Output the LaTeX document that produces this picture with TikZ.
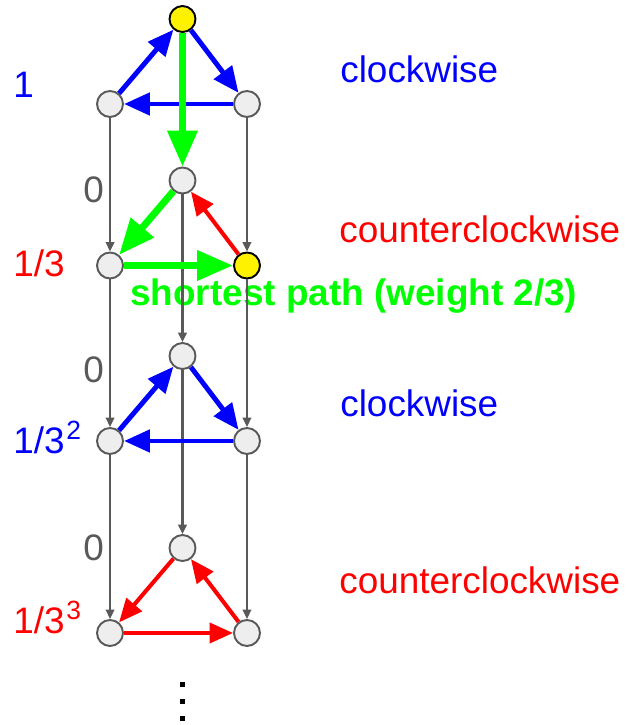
\documentclass[tikz,border=0pt]{standalone}
\usepackage{fontspec}
\setmainfont{Liberation Sans}
\usetikzlibrary{arrows.meta, positioning}
\definecolor{edgegray}{HTML}{595959}
\definecolor{nodefill}{HTML}{EEEEEE}
\newcommand{\pw}[1]{\kern1pt\raisebox{7.5pt}{\fontsize{15}{17}\selectfont #1}}

\begin{document}
\begin{tikzpicture}[x=0.02cm, y=-0.02cm, on grid,
        vertex/.style={circle, draw=edgegray, fill=nodefill, line width=1.1pt, minimum size=0.52cm, inner sep=0pt},
        start/.style={vertex, draw=black, fill=yellow},
        txt/.style={anchor=base west, inner sep=0pt, font=\fontsize{21}{25}\selectfont},
        down/.style={draw=edgegray, line width=1.3pt, -{Triangle[length=0.19cm, width=0.17cm]}},
        cw/.style={draw=blue, line width=2.8pt, -{Triangle[length=0.52cm, width=0.44cm]}},
        ccw/.style={draw=red, line width=2.3pt, -{Triangle[length=0.47cm, width=0.4cm]}},
        best/.style={draw=green, line width=4pt, -{Triangle[length=0.72cm, width=0.58cm]}}]
        \useasboundingbox (0,0) rectangle (629,725);

        % triangles, one per level
        \node [start] (t1) at (182.5,19) {};
        \node [vertex, below left=1.7cm and 1.45cm of t1] (l1) {};
        \node [vertex, below right=1.7cm and 1.29cm of t1] (r1) {};
        \node [vertex] (t2) at (182.5,180.5) {};
        \node [vertex, below left=1.7cm and 1.45cm of t2] (l2) {};
        \node [start, below right=1.7cm and 1.29cm of t2] (r2) {};
        \node [vertex] (t3) at (182.5,356) {};
        \node [vertex, below left=1.7cm and 1.45cm of t3] (l3) {};
        \node [vertex, below right=1.7cm and 1.29cm of t3] (r3) {};
        \node [vertex] (t4) at (182.5,548) {};
        \node [vertex, below left=1.7cm and 1.45cm of t4] (l4) {};
        \node [vertex, below right=1.7cm and 1.29cm of t4] (r4) {};

        % weights and directions
        \node [txt, blue] (w1) at (13,97) {1};
        \node [txt, red] (w2) at (13,276) {1/3};
        \node [txt, blue] (w3) at (13,453) {1/3\pw{2}};
        \node [txt, red] (w4) at (13,633) {1/3\pw{3}};
        \node [txt, edgegray] (z1) at (83,202) {0};
        \node [txt, edgegray] (z2) at (83,382) {0};
        \node [txt, edgegray] (z3) at (83,560) {0};
        \node [txt, blue] (d1) at (340,82) {clockwise};
        \node [txt, red] (d2) at (339,242) {counterclockwise};
        \node [txt, blue] (d3) at (340,416) {clockwise};
        \node [txt, red] (d4) at (339,593) {counterclockwise};
        \node [txt, green, font=\fontsize{21}{25}\selectfont\bfseries] (sp) at (130,305) {shortest path (weight 2/3)};

        \path [down] (l1) -- (l2);
        \path [down] (r1) -- (r2);
        \path [down] (l2) -- (l3);
        \path [down] (t2) -- (t3);
        \path [down] (r2) -- (r3);
        \path [down] (l3) -- (l4);
        \path [down] (t3) -- (t4);
        \path [down] (r3) -- (r4);

        \path [cw] (l1) -- (t1);
        \path [cw] (t1) -- (r1);
        \path [cw] (r1) -- (l1);
        \path [best] (t1) -- (t2);
        \path [best] (t2) -- (l2);
        \path [best] (l2) -- (r2);
        \path [ccw] (r2) -- (t2);
        \path [cw] (l3) -- (t3);
        \path [cw] (t3) -- (r3);
        \path [cw] (r3) -- (l3);
        \path [ccw] (t4) -- (l4);
        \path [ccw] (l4) -- (r4);
        \path [ccw] (r4) -- (t4);

        % more levels follow
        \foreach \y in {682,699,716}
            \fill (180,\y) rectangle (185,\y+5);
    \end{tikzpicture}
\end{document}
